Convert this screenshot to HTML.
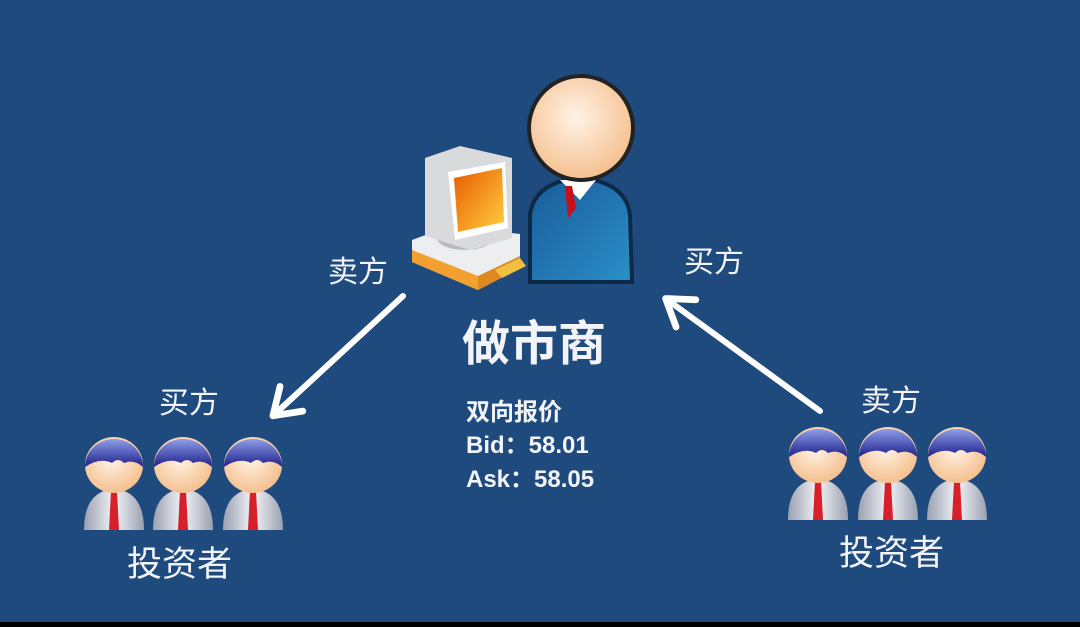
<!DOCTYPE html>
<html><head><meta charset="utf-8"><style>
html,body{margin:0;padding:0;background:#000;}
svg{display:block}
text{font-family:"Liberation Sans","Noto Sans CJK SC",sans-serif;fill:#f2f4f8;}
</style></head><body>
<svg width="1080" height="627" viewBox="0 0 1080 627" xmlns="http://www.w3.org/2000/svg">
<defs>
<radialGradient id="face" cx="0.45" cy="0.4" r="0.6"><stop offset="0" stop-color="#fff3e6"/><stop offset="1" stop-color="#f5c08e"/></radialGradient>
<linearGradient id="hair" x1="0" y1="0" x2="0" y2="1"><stop offset="0" stop-color="#8f9ee8"/><stop offset="1" stop-color="#1c1f8a"/></linearGradient>
<linearGradient id="shirt" x1="0" y1="0" x2="1" y2="0"><stop offset="0" stop-color="#9aa0b0"/><stop offset="0.5" stop-color="#f4f4f8"/><stop offset="1" stop-color="#9aa0b0"/></linearGradient>
<linearGradient id="suit" x1="0" y1="0" x2="1" y2="1"><stop offset="0" stop-color="#1a5a9a"/><stop offset="1" stop-color="#2a90c8"/></linearGradient>
<linearGradient id="scr" x1="0" y1="0" x2="1" y2="1"><stop offset="0" stop-color="#e85a00"/><stop offset="1" stop-color="#ffd040"/></linearGradient>
<g id="p">
<path d="M-30,65 Q-30,26 0,24 Q30,26 30,65 Z" fill="url(#shirt)"/>
<path d="M-3,26 L3,26 L5,65 L-5,65 Z" fill="#d8202a"/>
<ellipse cx="0" cy="0" rx="29" ry="28" fill="url(#face)"/>
<path d="M-29,2 A29,28 0 0 1 29,2 Q20,-6 10,-2 Q4,-8 -2,-2 Q-14,-8 -29,2 Z" fill="url(#hair)"/>
</g>
<marker id="ah" viewBox="0 0 10 10" refX="6" refY="5" markerWidth="7" markerHeight="7" orient="auto"><path d="M1,1 L7,5 L1,9" fill="none" stroke="#fff" stroke-width="1.6" stroke-linecap="round" stroke-linejoin="round"/></marker>
</defs>
<rect width="1080" height="622" fill="#1f4a7d"/>
<!-- computer -->
<path d="M412,240 L450,226 L520,234 L520,268 L478,290 L412,262 Z" fill="#eceef0"/>
<path d="M412,250 L478,276 L478,290 L412,262 Z" fill="#f2a030"/>
<path d="M478,276 L520,256 L520,268 L478,290 Z" fill="#e08820"/>
<path d="M495,270 L520,258 L526,266 L502,278 Z" fill="#f0c040"/>
<ellipse cx="465" cy="238" rx="28" ry="12" fill="#b8bcc0"/>
<path d="M425,158 L460,146 L512,158 L512,238 L470,250 L425,236 Z" fill="#d8dadc"/>
<path d="M448,172 L505,162 L508,228 L455,240 Z" fill="#fff"/>
<path d="M454,178 L502,168 L504,222 L458,232 Z" fill="url(#scr)"/>
<!-- market maker -->
<path d="M530,282 L530,215 Q534,182 580,178 Q626,182 630,215 L632,282 Z" fill="url(#suit)" stroke="#0c2a48" stroke-width="4"/>
<path d="M560,180 L580,200 L596,180 Z" fill="#fff"/>
<path d="M565,186 L572,186 L576,208 L568,218 Z" fill="#c8101a"/>
<circle cx="581" cy="128" r="52" fill="url(#face)" stroke="#222" stroke-width="4"/>
<!-- arrows -->
<line x1="403" y1="296" x2="276" y2="413" stroke="#fff" stroke-width="6" stroke-linecap="round" marker-end="url(#ah)"/>
<line x1="820" y1="411" x2="669" y2="301" stroke="#fff" stroke-width="6" stroke-linecap="round" marker-end="url(#ah)"/>
<!-- people -->
<use href="#p" x="114" y="465"/><use href="#p" x="183" y="465"/><use href="#p" x="253" y="465"/>
<use href="#p" x="818" y="455"/><use href="#p" x="888" y="455"/><use href="#p" x="957" y="455"/>
<!-- labels -->
<text x="328" y="282" font-size="30">卖方</text>
<text x="684" y="272" font-size="30">买方</text>
<text x="159" y="413" font-size="30">买方</text>
<text x="861" y="411" font-size="30">卖方</text>
<text x="127" y="576" font-size="35">投资者</text>
<text x="839" y="565" font-size="35">投资者</text>
<text x="462" y="360" font-size="48" font-weight="bold">做市商</text>
<text x="466" y="420" font-size="24" font-weight="bold">双向报价</text>
<text x="466" y="453" font-size="24" font-weight="bold">Bid：58.01</text>
<text x="466" y="487" font-size="24" font-weight="bold">Ask：58.05</text>
</svg>
</body></html>
